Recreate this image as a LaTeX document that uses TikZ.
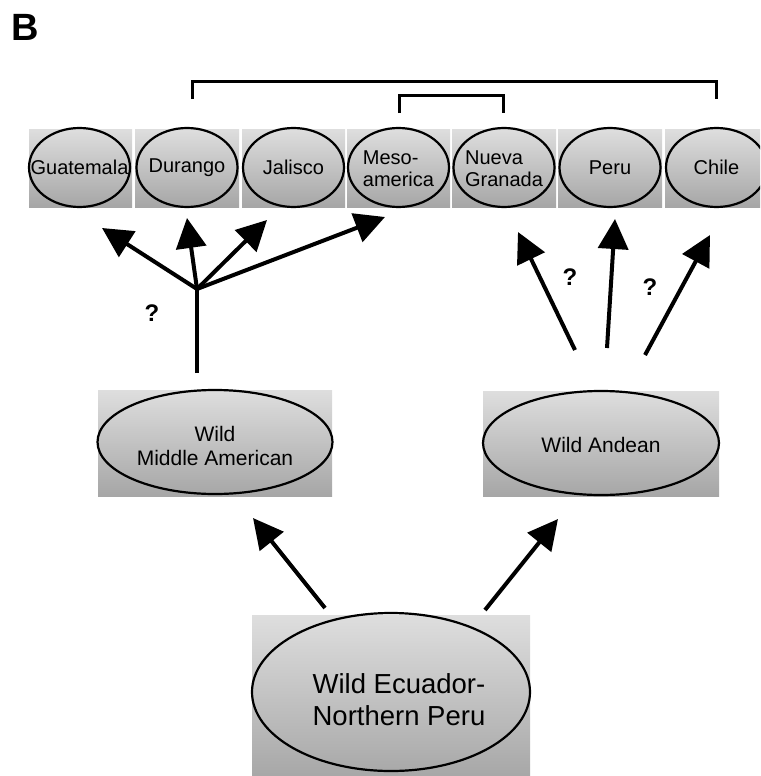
\documentclass[tikz,border=0pt]{standalone}
\usepackage{fontspec}
\setmainfont{Liberation Sans}
\usetikzlibrary{shapes.geometric,arrows.meta}
\definecolor{gtop}{RGB}{222,222,222}
\definecolor{gbot}{RGB}{166,166,166}
\begin{document}
\begin{tikzpicture}[x=1pt,y=-1pt,
 pbox/.style={top color=gtop,bottom color=gbot,draw=none},
 oval/.style={ellipse,draw=black,line width=2.2pt,inner sep=0pt,outer sep=0pt},
 topoval/.style={oval,minimum width=101pt,minimum height=79pt},
 small/.style={font=\fontsize{20}{22}\selectfont},
 mid/.style={font=\fontsize{21}{24}\selectfont},
 big/.style={font=\fontsize{27.5}{32}\selectfont},
 arr/.style={line width=4pt,-{Triangle[length=30pt,width=30pt]}},
 brk/.style={line width=3pt},
 qm/.style={font=\bfseries\fontsize{24}{26}\selectfont}]
\useasboundingbox (0,0) rectangle (760,776);
\clip (0,0) rectangle (760,776);

% panel letter
\node[font=\bfseries\fontsize{38}{40}\selectfont] (B) at (25,27) {B};

% top row boxes
\shade[pbox] (29,129) rectangle (132,207);
\shade[pbox] (135,129) rectangle (239,207);
\shade[pbox] (242,129) rectangle (345,207);
\shade[pbox] (347,129) rectangle (450,207);
\shade[pbox] (452,129) rectangle (556,207);
\shade[pbox] (558,129) rectangle (662,207);
\shade[pbox] (665,129) rectangle (768,207);

\node[topoval,label={[small]center:Guatemala}] (gua) at (79.5,167.5) {};
\node[topoval,label={[small]center:Durango}] (dur) at (187,167.5) {};
\node[topoval,label={[small]center:Jalisco}] (jal) at (293.5,167.5) {};
\node[topoval,label={[small,align=left,yshift=-1pt]center:{Meso-\\america}}] (meso) at (398.5,167.5) {};
\node[topoval,label={[small,align=left,yshift=-1pt]center:{Nueva\\Granada}}] (nue) at (504,167.5) {};
\node[topoval,label={[small]center:Peru}] (peru) at (610,167.5) {};
\node[topoval,label={[small]center:Chile}] (chi) at (716.5,167.5) {};

% brackets
\coordinate (b1a) at (192,99);
\coordinate (b1b) at (716,99);
\coordinate (b2a) at (399,113);
\coordinate (b2b) at (503,113);
\draw[brk] (b1a) -- ++(0,-18) -| (b1b);
\draw[brk] (b2a) -- ++(0,-18) -| (b2b);

% middle row
\shade[pbox] (98,390) rectangle (332,496);
\shade[pbox] (483,391) rectangle (719,496);
\node[oval,minimum width=235pt,minimum height=104pt,
  label={[mid,align=center,yshift=-4pt]center:{Wild\\Middle American}}] (mam) at (215,442) {};
\node[oval,minimum width=236pt,minimum height=104pt,
  label={[mid,yshift=-2pt]center:{Wild Andean}}] (and) at (601,443) {};

% bottom
\shade[pbox] (252,615) rectangle (530,780);
\node[oval,minimum width=278pt,minimum height=158pt,
  label={[big,align=left,xshift=8pt,yshift=-8pt]center:{Wild Ecuador-\\Northern Peru}}] (ecu) at (391,692) {};

% left tree
\coordinate (trunk) at (197,373);
\coordinate (jL) at (197,289);
\coordinate (tGua) at (102,228);
\coordinate (tDur) at (187,218);
\coordinate (tJal) at (267,220);
\coordinate (tMes) at (385,217);
\draw[line width=4pt] (trunk) -- (jL);
\draw[arr] (jL) -- (tGua);
\draw[arr] (jL) -- (tDur);
\draw[arr] (jL) -- (tJal);
\draw[arr] (jL) -- (tMes);
\node[qm] (q1) at (152,313) {?};

% right arrows
\coordinate (sA) at (575,350);
\coordinate (sB) at (607,348);
\coordinate (sC) at (645,355);
\coordinate (tA) at (518,232);
\coordinate (tB) at (615,219);
\coordinate (tC) at (710,235);
\draw[arr] (sA) -- (tA);
\draw[arr] (sB) -- (tB);
\draw[arr] (sC) -- (tC);
\node[qm] (q2) at (570,277) {?};
\node[qm] (q3) at (650,287) {?};

% bottom arrows
\coordinate (sL) at (325,608);
\coordinate (sR) at (485,610);
\coordinate (tL) at (253,518);
\coordinate (tR) at (558,519);
\draw[arr] (sL) -- (tL);
\draw[arr] (sR) -- (tR);
\end{tikzpicture}
\end{document}
